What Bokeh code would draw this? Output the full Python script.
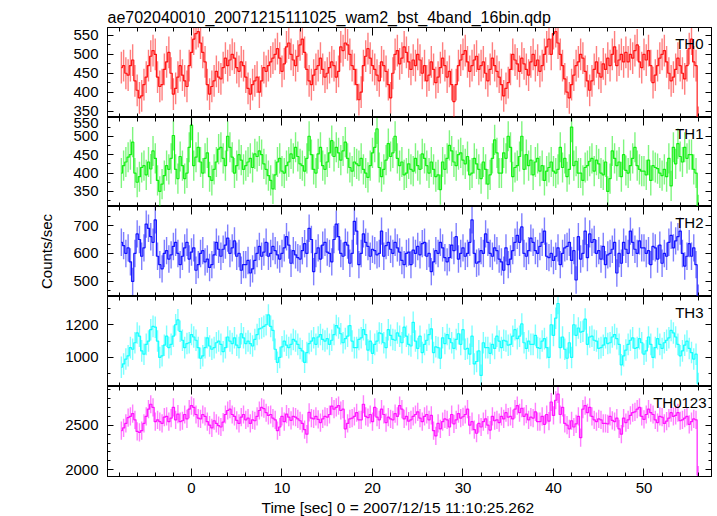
from bokeh.plotting import figure
from bokeh.models import (Range1d, LinearAxis, SingleIntervalTicker, Label, Title,
                          ColumnDataSource, CustomLabelingPolicy)
from bokeh.layouts import column
from bokeh.embed import file_html
from bokeh.resources import INLINE

FONT = "Liberation Sans"

title_text = "ae702040010_20071215111025_wam2_bst_4band_16bin.qdp"
x_title = "Time [sec] 0 = 2007/12/15 11:10:25.262"
y_title = "Counts/sec"
channel_names = ["TH0", "TH1", "TH2", "TH3", "TH0123"]
channel_colors = ["#ff0000", "#00ee00", "#0000ff", "#00ffff", "#ff00ff"]

# time bins (0.25 s), first bin centre and width
t_start = -7.75
bin_width = 0.25
n_bins = 256

# count rates: "_a" = bins starting on whole/half seconds,
# "_b" = the following quarter-second bins
th0_a = [465, 450, 470, 430, 385, 420, 470, 510, 440, 420, 480, 450, 410, 470, 430, 470,
         540, 560, 505, 420, 415, 455, 435, 490, 485, 490, 455, 470, 410, 420, 440, 430,
         455, 480, 500, 490, 475, 530, 485, 495, 540, 460, 420, 460, 490, 440, 465, 470,
         455, 510, 525, 470, 420, 400, 495, 490, 460, 430, 470, 420, 450, 510, 490, 505,
         460, 470, 485, 470, 445, 460, 440, 490, 440, 420, 420, 485, 510, 455, 485, 460,
         480, 430, 490, 455, 420, 410, 460, 485, 455, 475, 445, 500, 485, 470, 520, 500,
         560, 500, 435, 385, 445, 480, 490, 430, 430, 480, 440, 460, 470, 520, 485, 480,
         480, 490, 525, 465, 485, 470, 445, 490, 510, 450, 440, 490, 450, 470, 540, 470]
th0_b = [470, 445, 485, 405, 390, 440, 495, 500, 415, 460, 505, 395, 440, 445, 415, 505,
         555, 530, 480, 395, 430, 440, 465, 470, 500, 465, 480, 440, 395, 430, 400, 465,
         470, 490, 515, 455, 520, 500, 470, 525, 505, 430, 445, 470, 460, 450, 480, 440,
         520, 530, 500, 460, 380, 470, 515, 470, 445, 480, 455, 385, 500, 475, 520, 480,
         485, 500, 450, 430, 480, 425, 465, 470, 455, 375, 470, 500, 480, 470, 495, 470,
         450, 460, 470, 440, 390, 425, 500, 475, 490, 460, 480, 470, 455, 500, 540, 555,
         530, 470, 400, 420, 470, 500, 455, 405, 460, 450, 475, 490, 500, 470, 500, 505,
         500, 510, 480, 500, 510, 425, 470, 500, 480, 430, 460, 470, 435, 515, 480, 320]

th1_a = [400, 430, 450, 400, 390, 420, 430, 460, 380, 370, 420, 440, 410, 445, 385, 470,
         420, 470, 400, 455, 380, 430, 470, 420, 470, 400, 450, 410, 430, 415, 445, 450,
         410, 380, 395, 440, 400, 430, 440, 445, 420, 440, 450, 400, 470, 410, 455, 445,
         455, 460, 440, 405, 425, 440, 400, 420, 470, 415, 410, 480, 455, 440, 430, 400,
         410, 440, 410, 440, 400, 410, 395, 430, 440, 460, 420, 455, 425, 395, 440, 410,
         430, 370, 440, 455, 400, 440, 470, 415, 445, 410, 420, 395, 440, 420, 405, 430,
         400, 470, 440, 410, 420, 400, 380, 420, 440, 435, 400, 430, 385, 440, 430, 450,
         400, 440, 420, 405, 395, 380, 415, 400, 410, 440, 470, 480, 430, 440, 450, 400]
th1_b = [420, 443, 484, 375, 415, 395, 411, 440, 350, 393, 410, 502, 385, 420, 400, 530,
         443, 430, 440, 390, 410, 465, 440, 500, 443, 420, 435, 420, 440, 452, 460, 425,
         393, 357, 430, 405, 420, 452, 470, 425, 405, 500, 410, 452, 420, 430, 488, 470,
         435, 484, 415, 430, 420, 410, 388, 455, 520, 390, 435, 445, 500, 420, 395, 425,
         405, 420, 452, 420, 430, 390, 355, 410, 475, 430, 450, 435, 445, 400, 425, 385,
         410, 395, 490, 400, 455, 500, 390, 420, 500, 450, 435, 430, 405, 380, 415, 405,
         410, 415, 390, 525, 432, 400, 415, 432, 405, 425, 395, 350, 460, 420, 390, 407,
         420, 470, 410, 405, 435, 420, 412, 393, 390, 365, 425, 445, 470, 450, 410, 300]

th2_a = [640, 600, 570, 600, 650, 620, 690, 640, 590, 545, 610, 595, 640, 560, 620, 580,
         620, 560, 610, 580, 560, 640, 590, 630, 600, 645, 600, 560, 575, 545, 600, 590,
         640, 600, 610, 580, 620, 630, 610, 585, 610, 600, 650, 600, 580, 640, 600, 650,
         660, 590, 630, 600, 680, 600, 640, 590, 610, 600, 590, 640, 600, 620, 575, 600,
         560, 600, 595, 640, 600, 570, 600, 620, 570, 630, 660, 600, 590, 640, 600, 570,
         600, 640, 590, 610, 570, 620, 580, 640, 640, 600, 610, 640, 600, 640, 590, 600,
         590, 560, 620, 640, 610, 660, 600, 585, 640, 600, 580, 560, 600, 640, 600, 640,
         600, 640, 600, 620, 600, 560, 620, 630, 600, 640, 620, 660, 600, 590, 590, 560]
th2_b = [628, 620, 500, 670, 590, 705, 660, 720, 560, 600, 580, 625, 600, 590, 640, 605,
         540, 600, 570, 550, 595, 615, 615, 655, 620, 590, 540, 560, 530, 575, 625, 605,
         590, 625, 595, 600, 660, 565, 595, 580, 635, 690, 535, 620, 630, 605, 570, 705,
         600, 640, 565, 715, 560, 670, 625, 615, 595, 680, 628, 615, 640, 605, 560, 605,
         612, 625, 635, 590, 535, 610, 640, 585, 585, 610, 580, 620, 600, 720, 565, 610,
         670, 600, 620, 580, 540, 560, 610, 665, 695, 590, 655, 610, 625, 680, 585, 575,
         620, 600, 625, 575, 505, 580, 680, 670, 650, 610, 625, 595, 615, 530, 565, 615,
         680, 615, 645, 620, 610, 625, 580, 565, 590, 665, 645, 680, 555, 635, 620, 440]

th3_a = [940, 990, 1060, 1090, 1130, 1020, 1100, 1190, 1100, 1010, 1130, 1080, 1200, 1160, 1060, 1090,
         1125, 1060, 1010, 1120, 1050, 1090, 1080, 1060, 1100, 1120, 1060, 1120, 1100, 1070, 1140, 1180,
         1200, 1190, 1050, 1000, 1100, 1060, 1110, 1080, 1040, 1030, 1100, 1080, 1140, 1100, 1080, 1140,
         1180, 1090, 1130, 1100, 1060, 1120, 1140, 1100, 1080, 1150, 1090, 1170, 1110, 1150, 1090, 1130,
         1070, 1100, 1130, 1080, 1140, 1030, 1060, 1120, 1140, 1090, 1110, 1080, 1050, 1020, 960, 1040,
         1090, 1060, 1080, 1130, 1060, 1100, 1080, 1170, 1130, 1090, 1100, 1080, 1060, 1100, 1060, 1200,
         1240, 1060, 1050, 1090, 1200, 1180, 1160, 1080, 1130, 1100, 1060, 1120, 1090, 1140, 1080, 1010,
         1080, 1120, 1060, 1090, 1040, 1080, 1060, 1080, 1090, 1120, 1150, 1080, 1040, 1100, 1030, 1020]
th3_b = [960, 1010, 1050, 1150, 1040, 1080, 1170, 1185, 1000, 1075, 1060, 1130, 1230, 1105, 1085, 1140,
         1105, 995, 1060, 1070, 1060, 1100, 1035, 1125, 1085, 1075, 1145, 1085, 1085, 1110, 1175, 1190,
         1260, 1165, 970, 1065, 1075, 1080, 1100, 1055, 970, 1085, 1120, 1125, 1110, 1115, 1105, 1195,
         1145, 1115, 1195, 1060, 1110, 1170, 1045, 1025, 1100, 1145, 1060, 1135, 1105, 1130, 1185, 1080,
         1215, 1055, 1030, 1105, 1175, 1065, 995, 1085, 1115, 1055, 1145, 1170, 1055, 1130, 975, 890,
         1060, 1025, 1055, 1100, 1105, 1075, 1130, 1115, 1205, 1055, 1080, 1135, 1055, 1115, 1000, 1135,
         1330, 1125, 995, 1000, 1135, 1155, 1235, 1125, 1105, 1055, 1075, 1085, 1125, 1115, 955, 1045,
         1105, 1055, 1115, 1020, 1125, 1000, 1115, 1055, 1105, 1165, 1125, 1010, 1075, 1055, 990, 840]

th0123_a = [2440, 2520, 2600, 2560, 2420, 2520, 2680, 2700, 2560, 2520, 2600, 2580, 2560, 2540, 2620, 2680,
            2700, 2580, 2620, 2540, 2470, 2520, 2480, 2620, 2680, 2600, 2520, 2620, 2580, 2560, 2600, 2700,
            2640, 2620, 2560, 2480, 2540, 2590, 2600, 2570, 2520, 2400, 2580, 2600, 2530, 2600, 2620, 2680,
            2720, 2680, 2520, 2580, 2640, 2560, 2600, 2620, 2700, 2560, 2620, 2590, 2560, 2600, 2680, 2600,
            2560, 2620, 2580, 2600, 2560, 2440, 2520, 2540, 2560, 2620, 2560, 2580, 2620, 2500, 2450, 2520,
            2540, 2500, 2600, 2560, 2600, 2640, 2600, 2680, 2640, 2600, 2560, 2580, 2540, 2600, 2620, 2760,
            2780, 2620, 2520, 2460, 2480, 2600, 2680, 2640, 2600, 2540, 2560, 2520, 2600, 2540, 2460, 2580,
            2560, 2640, 2680, 2600, 2620, 2640, 2560, 2600, 2520, 2580, 2600, 2640, 2560, 2600, 2540, 2560]
th0123_b = [2470, 2585, 2630, 2430, 2440, 2600, 2735, 2540, 2540, 2590, 2540, 2700, 2625, 2550, 2570, 2720,
            2620, 2570, 2600, 2500, 2550, 2495, 2535, 2665, 2620, 2555, 2590, 2560, 2520, 2550, 2665, 2685,
            2610, 2580, 2440, 2600, 2625, 2555, 2590, 2550, 2450, 2645, 2570, 2565, 2570, 2590, 2715, 2700,
            2665, 2460, 2570, 2600, 2560, 2735, 2585, 2540, 2590, 2680, 2530, 2570, 2630, 2720, 2570, 2545,
            2600, 2650, 2540, 2620, 2610, 2380, 2460, 2570, 2480, 2515, 2630, 2595, 2680, 2540, 2410, 2480,
            2570, 2445, 2550, 2530, 2570, 2590, 2570, 2720, 2690, 2625, 2590, 2650, 2540, 2510, 2545, 2610,
            2850, 2700, 2500, 2550, 2515, 2360, 2720, 2700, 2560, 2570, 2520, 2515, 2555, 2580, 2400, 2530,
            2610, 2650, 2700, 2565, 2680, 2620, 2530, 2590, 2545, 2640, 2610, 2550, 2580, 2510, 2570, 1940]

# typical 1-sigma error half-length of each channel (counts/sec)
err_half = [42, 41, 49, 66, 102]

# axis ranges and tick spacing
x_lo, x_hi = -9.28, 57.46
y_ranges = [(333, 571), (309, 551), (446, 768), (822, 1373), (1925, 2934)]
y_major = [50, 50, 100, 200, 500]
y_minor_n = [2, 2, 3, 2, 5]
x_major = 10
x_minor_n = 5

# layout (pixels)
FRAME_W = 604
frame_h = [90, 89, 90, 90, 90]
LEFT = 107
RIGHT = 4
TOP = 27
BOTTOM = 38


def interleave(a, b):
    out = []
    for u, v in zip(a, b):
        out.append(u)
        out.append(v)
    return out


series = [interleave(th0_a, th0_b), interleave(th1_a, th1_b), interleave(th2_a, th2_b),
          interleave(th3_a, th3_b), interleave(th0123_a, th0123_b)]
time = [t_start + bin_width * k for k in range(n_bins)]

xr = Range1d(x_lo, x_hi)
x_upp = (x_hi - x_lo) / FRAME_W


def style_axis(ax, tick_in, minor_in, labels, standoff):
    ax.major_tick_in = tick_in
    ax.major_tick_out = 0
    ax.minor_tick_in = minor_in
    ax.minor_tick_out = 0
    ax.axis_line_color = "black"
    ax.major_tick_line_color = "black"
    ax.minor_tick_line_color = "black"
    ax.major_label_text_font = FONT
    ax.major_label_text_color = "black"
    if labels:
        ax.major_label_text_font_size = "15px"
        ax.major_label_standoff = standoff
    else:
        ax.major_label_text_font_size = "0px"
        ax.major_label_standoff = 0
        ax.major_label_policy = CustomLabelingPolicy(
            code="for (const i of indices) { indices.unset(i) }")


def make_title(text, loc_align, offset, standoff, size):
    return Title(text=text, align=loc_align, offset=offset, standoff=standoff,
                 text_font=FONT, text_font_size=size, text_font_style="normal",
                 text_color="black")


panels = []
n = len(series)
for i in range(n):
    ylo, yhi = y_ranges[i]
    fh = frame_h[i]
    p = figure(frame_width=FRAME_W, frame_height=fh, x_range=xr, y_range=Range1d(ylo, yhi),
               output_backend="svg", toolbar_location=None,
               x_axis_location=None, y_axis_location=None,
               min_border_left=LEFT, min_border_right=RIGHT,
               min_border_top=TOP if i == 0 else 0,
               min_border_bottom=BOTTOM if i == n - 1 else 0)
    p.grid.visible = False
    p.outline_line_color = "black"
    p.outline_line_alpha = 1
    p.outline_line_width = 1
    p.background_fill_color = "white"
    p.border_fill_color = "white"

    for loc in ["left", "right"]:
        ax = LinearAxis(ticker=SingleIntervalTicker(interval=y_major[i], num_minor_ticks=y_minor_n[i]))
        style_axis(ax, 6, 3, loc == "left", 9)
        p.add_layout(ax, loc)
    for loc in ["above", "below"]:
        ax = LinearAxis(ticker=SingleIntervalTicker(interval=x_major, num_minor_ticks=x_minor_n))
        style_axis(ax, 8, 4, (loc == "below" and i == n - 1), 6)
        p.add_layout(ax, loc)

    vals = series[i]
    e = err_half[i]
    src = ColumnDataSource(dict(t=time, y=vals,
                                lo=[v - e for v in vals], hi=[v + e for v in vals]))
    col = channel_colors[i]
    p.segment(x0="t", y0="lo", x1="t", y1="hi", source=src, line_color=col,
              line_alpha=0.5, line_width=1.4)
    p.step(x="t", y="y", source=src, mode="center", line_color=col, line_width=1.2, line_alpha=0.9)

    y_upp = (yhi - ylo) / fh
    right_pad = 5 if i == n - 1 else 8
    p.add_layout(Label(x=x_hi - right_pad * x_upp, y=yhi - 16.3 * y_upp, text=channel_names[i],
                       text_font=FONT, text_font_size="15px", text_color="black",
                       text_align="right", text_baseline="alphabetic"))
    if i == 0:
        p.title.text = title_text
        p.title.align = "left"
        p.title.offset = 0
        p.title.standoff = 4
        p.title.text_font = FONT
        p.title.text_font_size = "16px"
        p.title.text_font_style = "normal"
        p.title.text_color = "black"
    if i == 2:
        p.add_layout(make_title(y_title, "center", -7, 31, "15px"), "left")
    if i == n - 1:
        p.add_layout(make_title(x_title, "left", 154, 2, "15.5px"), "below")
    panels.append(p)

layout = column(*panels, spacing=0)
open("out.html", "w").write(file_html(layout, INLINE))
